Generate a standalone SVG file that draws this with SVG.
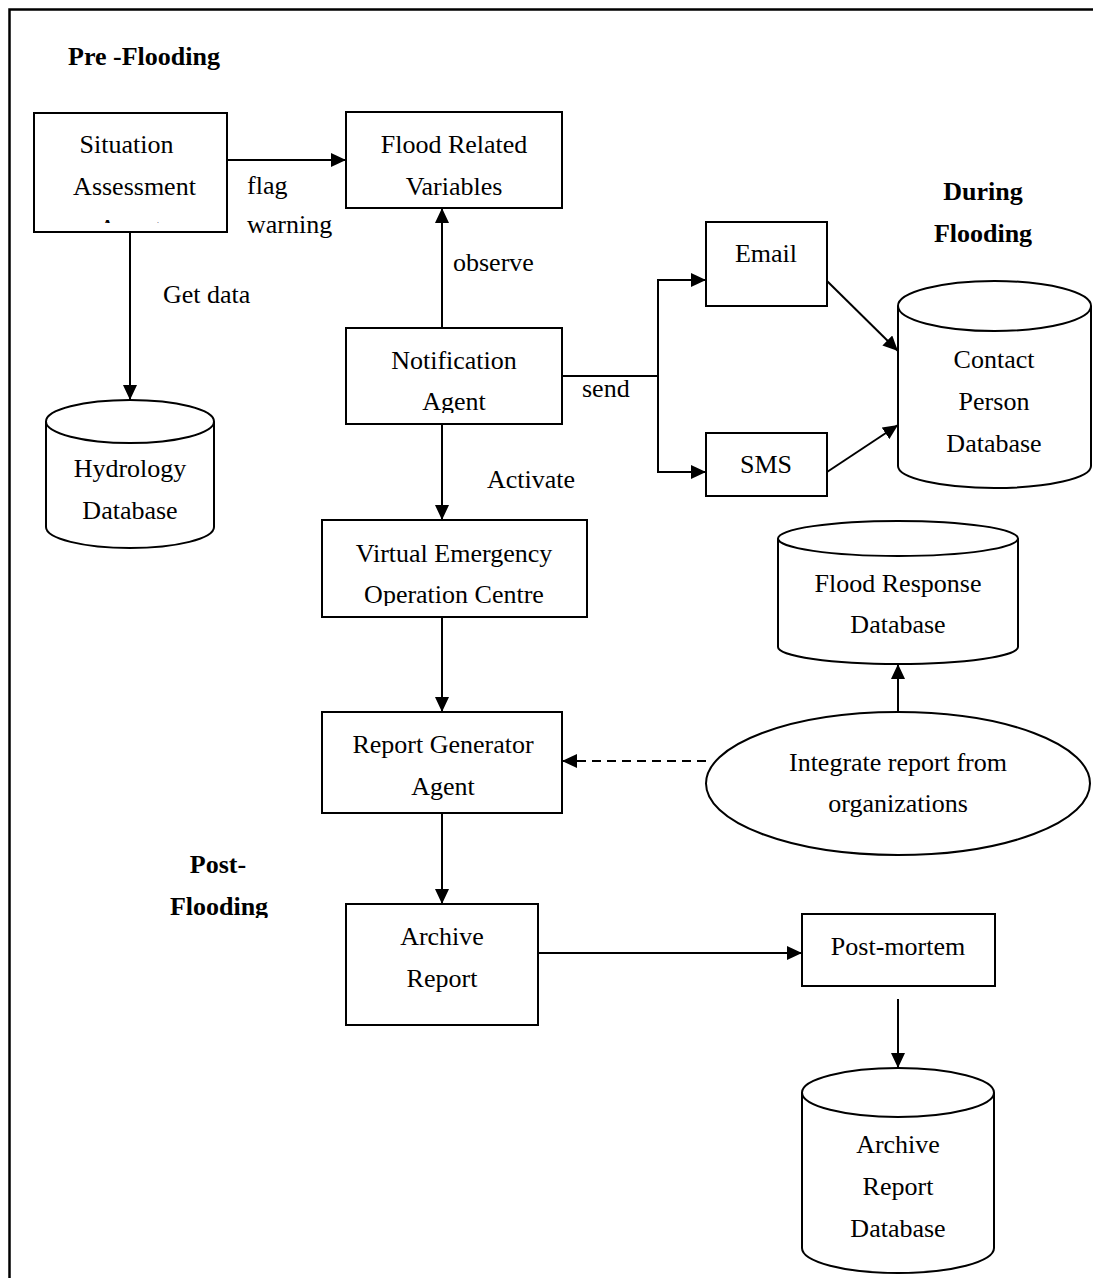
<svg xmlns="http://www.w3.org/2000/svg" width="1093" height="1278" viewBox="0 0 1093 1278">
<style>
.t{font-family:"Liberation Serif","Times New Roman",serif;font-size:26px;fill:#000}
.c{text-anchor:middle}
.b{font-weight:bold}
.s{fill:#fff;stroke:#000;stroke-width:2}
.l{fill:none;stroke:#000;stroke-width:2}
.d{stroke-dasharray:9 6}
</style>
<defs>
<marker id="ah" markerUnits="userSpaceOnUse" markerWidth="15" markerHeight="14" refX="15" refY="7" orient="auto">
<path d="M0,0 L15,7 L0,14 z" fill="#000"/>
</marker>
<clipPath id="clipSA"><rect x="34" y="113" width="193" height="110"/></clipPath>
<clipPath id="clipNA"><rect x="346" y="328" width="216" height="85"/></clipPath>
<clipPath id="clipVE"><rect x="322" y="520" width="265" height="86"/></clipPath>
<clipPath id="clipPF"><rect x="150" y="840" width="140" height="78"/></clipPath>
</defs>
<rect width="1093" height="1278" fill="#fff"/>
<path d="M9.5,1278 V9.5 H1093" fill="none" stroke="#000" stroke-width="2.5"/>

<g id="labels">
<text class="t b" x="68" y="65">Pre -Flooding</text>
<text class="t b c" x="983" y="200">During</text>
<text class="t b c" x="983" y="242">Flooding</text>
<g clip-path="url(#clipPF)">
<text class="t b c" x="218" y="873">Post-</text>
<text class="t b c" x="219" y="915">Flooding</text>
</g>
</g>

<g id="connectors">
<path class="l" d="M227,160 H346" marker-end="url(#ah)"/>
<path class="l" d="M130,232 V400" marker-end="url(#ah)"/>
<path class="l" d="M442,328 V208" marker-end="url(#ah)"/>
<path class="l" d="M562,376 H658 V280 H706" marker-end="url(#ah)"/>
<path class="l" d="M658,376 V472 H706" marker-end="url(#ah)"/>
<path class="l" d="M827,281 L898,351" marker-end="url(#ah)"/>
<path class="l" d="M827,472 L898,425" marker-end="url(#ah)"/>
<path class="l" d="M442,424 V520" marker-end="url(#ah)"/>
<path class="l" d="M442,617 V712" marker-end="url(#ah)"/>
<path class="l d" d="M706,761 H562" marker-end="url(#ah)"/>
<path class="l" d="M898,712 V664" marker-end="url(#ah)"/>
<path class="l" d="M442,813 V904" marker-end="url(#ah)"/>
<path class="l" d="M538,953 H802" marker-end="url(#ah)"/>
<path class="l" d="M898,999 V1068" marker-end="url(#ah)"/>
<text class="t" x="247" y="194">flag</text>
<text class="t" x="247" y="233">warning</text>
<text class="t" x="163" y="303">Get data</text>
<text class="t" x="453" y="271">observe</text>
<text class="t" x="582" y="397">send</text>
<text class="t" x="487" y="488">Activate</text>
</g>

<g id="situation-assessment">
<rect class="s" x="34" y="113" width="193" height="119"/>
<text class="t c" x="126.5" y="153">Situation</text>
<text class="t c" x="134.5" y="195">Assessment</text>
<text class="t c" x="130" y="237" clip-path="url(#clipSA)">Agent</text>
</g>

<g id="flood-related-variables">
<rect class="s" x="346" y="112" width="216" height="96"/>
<text class="t c" x="454" y="153">Flood Related</text>
<text class="t c" x="454" y="195">Variables</text>
</g>

<g id="hydrology-database">
<path class="s" d="M46,421.5 V527 A84,21 0 0 0 214,527 V421.5"/>
<ellipse class="s" cx="130" cy="421.5" rx="84" ry="21.5"/>
<text class="t c" x="130" y="477">Hydrology</text>
<text class="t c" x="130" y="519">Database</text>
</g>

<g id="notification-agent">
<rect class="s" x="346" y="328" width="216" height="96"/>
<text class="t c" x="454" y="369">Notification</text>
<text class="t c" x="454" y="410" clip-path="url(#clipNA)">Agent</text>
</g>

<g id="email">
<rect class="s" x="706" y="222" width="121" height="84"/>
<text class="t c" x="766" y="262">Email</text>
</g>

<g id="sms">
<rect class="s" x="706" y="433" width="121" height="63"/>
<text class="t c" x="766" y="473">SMS</text>
</g>

<g id="contact-person-database">
<path class="s" d="M898,306 V466 A96.5,22 0 0 0 1091,466 V306"/>
<ellipse class="s" cx="994.5" cy="306" rx="96.5" ry="25"/>
<text class="t c" x="994" y="368">Contact</text>
<text class="t c" x="994" y="410">Person</text>
<text class="t c" x="994" y="452">Database</text>
</g>

<g id="virtual-emergency-operation-centre">
<rect class="s" x="322" y="520" width="265" height="97"/>
<text class="t c" x="454" y="562">Virtual Emergency</text>
<text class="t c" x="454" y="603" clip-path="url(#clipVE)">Operation Centre</text>
</g>

<g id="flood-response-database">
<path class="s" d="M778,538.5 V647 A120,17 0 0 0 1018,647 V538.5"/>
<ellipse class="s" cx="898" cy="538.5" rx="120" ry="17.5"/>
<text class="t c" x="898" y="592">Flood Response</text>
<text class="t c" x="898" y="633">Database</text>
</g>

<g id="report-generator-agent">
<rect class="s" x="322" y="712" width="240" height="101"/>
<text class="t c" x="443" y="753">Report Generator</text>
<text class="t c" x="443" y="795">Agent</text>
</g>

<g id="integrate-report">
<ellipse class="s" cx="898" cy="783.5" rx="192" ry="71.5"/>
<text class="t c" x="898" y="771">Integrate report from</text>
<text class="t c" x="898" y="812">organizations</text>
</g>

<g id="archive-report">
<rect class="s" x="346" y="904" width="192" height="121"/>
<text class="t c" x="442" y="945">Archive</text>
<text class="t c" x="442" y="987">Report</text>
</g>

<g id="post-mortem">
<rect class="s" x="802" y="914" width="193" height="72"/>
<text class="t c" x="898" y="955">Post-mortem</text>
</g>

<g id="archive-report-database">
<path class="s" d="M802,1092.5 V1248 A96,25 0 0 0 994,1248 V1092.5"/>
<ellipse class="s" cx="898" cy="1092.5" rx="96" ry="24.5"/>
<text class="t c" x="898" y="1153">Archive</text>
<text class="t c" x="898" y="1195">Report</text>
<text class="t c" x="898" y="1237">Database</text>
</g>
</svg>
